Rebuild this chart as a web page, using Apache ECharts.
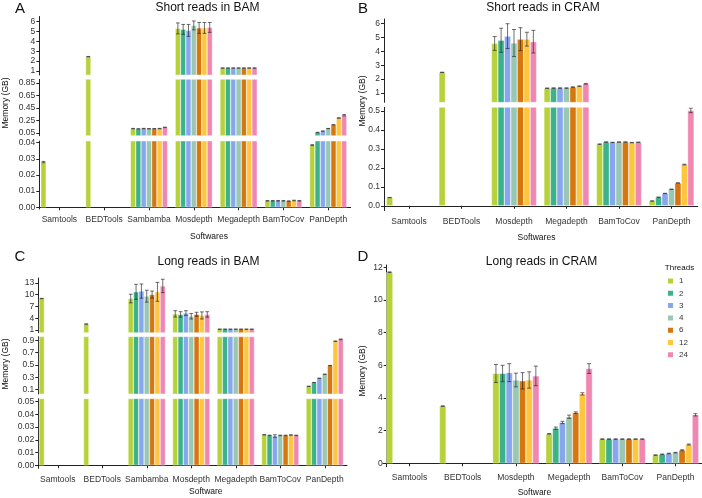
<!DOCTYPE html>
<html><head><meta charset="utf-8">
<script src="https://cdn.jsdelivr.net/npm/echarts@6/dist/echarts.min.js"></script>
<style>html,body{margin:0;padding:0;background:#fff}#c{width:702px;height:498px}</style>
</head><body><div id="c"></div>
<script>
// ---------- data ----------
const threads = ['1','2','3','4','6','12','24'];
const threadColors = ['#B7D13B','#3BB28A','#87A6EE','#98C8B4','#D6760E','#FDC63E','#F087B2'];

const toolsBam  = ['Samtools','BEDTools','Sambamba','Mosdepth','Megadepth','BamToCov','PanDepth'];
const toolsCram = ['Samtools','BEDTools','Mosdepth','Megadepth','BamToCov','PanDepth'];

// rows = tools, columns = threads (1,2,3,4,6,12,24); null = not run
const memShortBam = [
  [0.028, null, null, null, null, null, null],
  [2.45, null, null, null, null, null, null],
  [0.12, 0.115, 0.12, 0.118, 0.118, 0.12, 0.14],
  [5.3, 5.2, 5.1, 5.6, 5.35, 5.35, 5.4],
  [1.3, 1.3, 1.3, 1.3, 1.3, 1.3, 1.3],
  [0.004, 0.004, 0.004, 0.004, 0.0038, 0.0042, 0.004],
  [0.0385, 0.058, 0.08, 0.12, 0.18, 0.29, 0.335]
];
const errShortBam = [
  [0.0004, 0, 0, 0, 0, 0, 0],
  [0.02, 0, 0, 0, 0, 0, 0],
  [0.004, 0.004, 0.004, 0.004, 0.004, 0.004, 0.004],
  [0.55, 0.5, 0.6, 0.45, 0.55, 0.55, 0.5],
  [0.02, 0.02, 0.02, 0.02, 0.02, 0.02, 0.02],
  [0.0002, 0.0002, 0.0002, 0.0002, 0.0002, 0.0002, 0.0002],
  [0.0003, 0.003, 0.003, 0.003, 0.004, 0.005, 0.01]
];

const memShortCram = [
  [0.043, null, null, null, null, null, null],
  [2.48, null, null, null, null, null, null],
  [4.57, 4.8, 5.1, 4.6, 4.88, 4.88, 4.7],
  [1.33, 1.34, 1.34, 1.34, 1.41, 1.48, 1.65],
  [0.325, 0.336, 0.334, 0.336, 0.336, 0.333, 0.335],
  [0.025, 0.045, 0.065, 0.087, 0.12, 0.217, 0.503]
];
const errShortCram = [
  [0.001, 0, 0, 0, 0, 0, 0],
  [0.01, 0, 0, 0, 0, 0, 0],
  [0.5, 0.87, 0.9, 0.98, 0.83, 0.5, 0.82],
  [0.02, 0.02, 0.02, 0.02, 0.02, 0.02, 0.03],
  [0.001, 0.001, 0.001, 0.001, 0.001, 0.001, 0.001],
  [0.001, 0.001, 0.001, 0.001, 0.001, 0.002, 0.012]
];

const memLongBam = [
  [9.0, null, null, null, null, null, null],
  [2.5, null, null, null, null, null, null],
  [9.0, 10.7, 10.9, 9.6, 10.0, 10.7, 12.2],
  [5.1, 4.95, 5.3, 4.5, 5.0, 4.7, 4.95],
  [1.2, 1.2, 1.2, 1.2, 1.2, 1.2, 1.2],
  [0.024, 0.0235, 0.023, 0.0235, 0.0235, 0.0238, 0.0235],
  [0.155, 0.215, 0.285, 0.35, 0.49, 0.885, 0.915]
];
const errLongBam = [
  [0.05, 0, 0, 0, 0, 0, 0],
  [0.05, 0, 0, 0, 0, 0, 0],
  [1.1, 1.9, 1.8, 1.5, 0.9, 2.4, 1.7],
  [0.8, 0.7, 0.6, 0.7, 0.5, 0.9, 0.7],
  [0.05, 0.05, 0.05, 0.05, 0.05, 0.05, 0.05],
  [0.0002, 0.0002, 0.001, 0.0002, 0.0002, 0.0002, 0.0002],
  [0.002, 0.002, 0.002, 0.002, 0.003, 0.004, 0.006]
];

const memLongCram = [
  [11.7, null, null, null, null, null, null],
  [3.5, null, null, null, null, null, null],
  [5.5, 5.5, 5.55, 5.1, 5.05, 5.1, 5.35],
  [1.8, 2.15, 2.5, 2.85, 3.1, 4.25, 5.8],
  [1.48, 1.48, 1.48, 1.48, 1.48, 1.48, 1.48],
  [0.5, 0.55, 0.6, 0.65, 0.8, 1.15, 2.97]
];
const errLongCram = [
  [0.02, 0, 0, 0, 0, 0, 0],
  [0.02, 0, 0, 0, 0, 0, 0],
  [0.55, 0.5, 0.55, 0.42, 0.5, 0.5, 0.6],
  [0.02, 0.07, 0.07, 0.1, 0.05, 0.07, 0.3],
  [0.02, 0.02, 0.02, 0.02, 0.02, 0.02, 0.02],
  [0.02, 0.02, 0.02, 0.02, 0.03, 0.03, 0.07]
];

// tick labels per axis segment
const ticksShortBamTop = [1, 2, 3, 4, 5, 6];
const ticksShortBamMid = [0.05, 0.25, 0.45, 0.65, 0.85];
const ticksShortBamLow = [0, 0.01, 0.02, 0.03, 0.04];
const ticksShortCramTop = [1, 2, 3, 4, 5, 6];
const ticksShortCramLow = [0, 0.1, 0.2, 0.3, 0.4, 0.5];
const ticksLongBamTop = [1, 4, 7, 10, 13];
const ticksLongBamMid = [0.1, 0.3, 0.5, 0.7, 0.9];
const ticksLongBamLow = [0, 0.01, 0.02, 0.03, 0.04, 0.05];
const ticksLongCram = [0, 2, 4, 6, 8, 10, 12];

// ---------- layout ----------
const FONT = 'Liberation Sans, Arial, Helvetica, sans-serif';
const TXT = '#333';
const AX = '#222';

const panels = [
  { cats: toolsBam, mem: memShortBam, err: errShortBam, left: 37, width: 313.6, yOffset: -2.3, gap: 17,
    segs: [
      { top: 16.5, bottom: 75, min: 0.6, max: 6.5, lo: 0.95, ticks: ticksShortBamTop, dec: 0 },
      { top: 79.3, bottom: 135.7, min: 0.007, max: 0.909, lo: 0.045, ticks: ticksShortBamMid, dec: 2 },
      { top: 141, bottom: 209, min: -0.00105, max: 0.04105, lo: -Infinity, ticks: ticksShortBamLow, dec: 2 }
    ]},
  { cats: toolsCram, mem: memShortCram, err: errShortCram, left: 382.75, width: 315, yOffset: -1.3, gap: 14,
    segs: [
      { top: 19, bottom: 102.3, min: 0.313, max: 6.34, lo: 0.6, ticks: ticksShortCramTop, dec: 0 },
      { top: 107.3, bottom: 210.5, min: -0.025, max: 0.5195, lo: -Infinity, ticks: ticksShortCramLow, dec: 1 }
    ]},
  { cats: toolsBam, mem: memLongBam, err: errLongBam, left: 35.5, width: 311.5, yOffset: -2.8, gap: 16,
    segs: [
      { top: 278, bottom: 332.7, min: 0.31, max: 14.22, lo: 0.95, ticks: ticksLongBamTop, dec: 0 },
      { top: 336.7, bottom: 394, min: 0.0304, max: 0.958, lo: 0.055, ticks: ticksLongBamMid, dec: 1 },
      { top: 398.7, bottom: 468.3, min: -0.00236, max: 0.05236, lo: -Infinity, ticks: ticksLongBamLow, dec: 2 }
    ]},
  { cats: toolsCram, mem: memLongCram, err: errLongCram, left: 382.9, width: 319.2, yOffset: -3.8, gap: 12.5,
    segs: [
      { top: 265, bottom: 466.7, min: -0.208, max: 12.14, lo: -Infinity, ticks: ticksLongCram, dec: 0 }
    ]}
];

function makeErr(frac) {
  return function (params, api) {
    const ci = api.value(0), k = api.value(1), v = api.value(2), e = api.value(3);
    const c = api.coord([ci, v]);
    const band = api.size([1, 0])[0];
    const group = band * (1 - frac);
    const bw = group / 7;
    const x = c[0] - group / 2 + (k + 0.5) * bw;
    const yT = api.coord([ci, v + e])[1];
    const yB = api.coord([ci, v - e])[1];
    const cw = Math.min(bw * 0.7, 4) / 2;
    const st = { stroke: '#2a2a2a', lineWidth: 0.8, opacity: 0.85 };
    return { type: 'group', children: [
      { type: 'line', shape: { x1: x, y1: yT, x2: x, y2: yB }, style: st },
      { type: 'line', shape: { x1: x - cw, y1: yT, x2: x + cw, y2: yT }, style: st },
      { type: 'line', shape: { x1: x - cw, y1: yB, x2: x + cw, y2: yB }, style: st }
    ]};
  };
}

const option = { animation: false, grid: [], xAxis: [], yAxis: [], series: [], graphic: [] };

panels.forEach(p => {
  p.segs.forEach((s, si) => {
    const gi = option.grid.length;
    const isBottom = si === p.segs.length - 1;
    option.grid.push({ left: p.left, width: p.width, top: s.top, height: s.bottom - s.top,
      containLabel: false, outerBoundsMode: 'none' });
    option.xAxis.push({ type: 'category', gridIndex: gi, data: p.cats, show: isBottom,
      axisLine: { show: true, lineStyle: { color: AX, width: 1 } },
      axisTick: { show: true, alignWithLabel: true, length: 3, lineStyle: { color: AX } },
      axisLabel: { interval: 0, margin: 6.5, fontSize: 8.5, color: TXT, fontFamily: FONT },
      splitLine: { show: false } });
    option.yAxis.push({ type: 'value', gridIndex: gi, min: s.min, max: s.max, offset: p.yOffset,
      splitLine: { show: false },
      axisLine: { show: true, lineStyle: { color: AX, width: 1 } },
      axisTick: { show: true, length: 3, customValues: s.ticks, lineStyle: { color: AX } },
      axisLabel: { customValues: s.ticks, margin: 4, fontSize: 8.5, color: TXT, fontFamily: FONT,
        formatter: v => Number(v).toFixed(s.dec) } });
    threads.forEach((t, k) => {
      option.series.push({ type: 'bar', name: t, xAxisIndex: gi, yAxisIndex: gi, clip: true,
        barGap: '0%', barCategoryGap: p.gap + '%',
        itemStyle: { color: threadColors[k], borderColor: '#fff', borderWidth: 0.4 },
        emphasis: { disabled: true },
        data: p.mem.map(row => (row[k] == null || row[k] < s.lo) ? '-' : row[k]) });
    });
    const errData = [];
    p.mem.forEach((row, ci) => row.forEach((v, k) => {
      if (v != null && v >= s.lo && v <= s.max) errData.push([ci, k, v, p.err[ci][k] || 0]);
    }));
    option.series.push({ type: 'custom', name: 'err', xAxisIndex: gi, yAxisIndex: gi, clip: true, z: 10,
      encode: { x: 0, y: 2 }, data: errData, renderItem: makeErr(p.gap / 100) });
  });
});

option.legend = { data: threads, orient: 'vertical', left: 666, top: 276.5, itemWidth: 7, itemHeight: 7,
  itemGap: 3.3, icon: 'rect', selectedMode: false, padding: 0,
  textStyle: { fontSize: 8, color: TXT, fontFamily: FONT } };

function txt(text, x, y, size, opts) {
  return Object.assign({ type: 'text', x: x, y: y, silent: true,
    style: { text: text, fontSize: size, fontFamily: FONT, fill: '#111',
      textAlign: 'center', textVerticalAlign: 'middle' } }, opts || {});
}
option.graphic = [
  txt('A', 20, 8.5, 15), txt('B', 363, 8.5, 15), txt('C', 20, 257, 15), txt('D', 363, 257, 15),
  txt('Short reads in BAM', 207.5, 7.5, 12), txt('Short reads in CRAM', 543, 7.5, 12),
  txt('Long reads in BAM', 208.5, 261.7, 12), txt('Long reads in CRAM', 541.5, 261.7, 12),
  txt('Softwares', 209, 237, 8.5), txt('Softwares', 536.5, 237.3, 8.5),
  txt('Software', 205.8, 492, 8.5), txt('Software', 534.4, 492.5, 8.5),
  txt('Memory (GB)', 6, 103, 8.5, { rotation: Math.PI / 2 }),
  txt('Memory (GB)', 362.5, 101, 8.5, { rotation: Math.PI / 2 }),
  txt('Memory (GB)', 6, 364, 8.5, { rotation: Math.PI / 2 }),
  txt('Memory (GB)', 362.5, 371, 8.5, { rotation: Math.PI / 2 }),
  txt('Threads', 679.5, 268, 8)
];

const chart = echarts.init(document.getElementById('c'), null, { renderer: 'canvas' });
chart.setOption(option);
</script></body></html>
